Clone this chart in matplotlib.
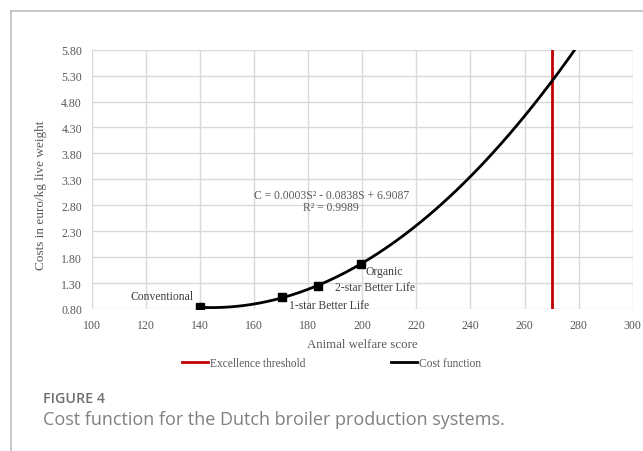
import numpy as np
import matplotlib
matplotlib.use("Agg")
import matplotlib.pyplot as plt
from matplotlib.lines import Line2D

# Production systems: animal welfare score and cost (euro/kg live weight)
systems = ["Conventional", "1-star Better Life", "2-star Better Life", "Organic"]
welfare_score = [140, 170.4, 183.6, 199.5]
cost = [0.83, 1.025, 1.243, 1.673]

excellence_threshold = 270
equation_text = "C = 0.0003S² - 0.0838S + 6.9087\nR² = 0.9989"

x_ticks = list(range(100, 301, 20))
y_ticks = [0.80, 1.30, 1.80, 2.30, 2.80, 3.30, 3.80, 4.30, 4.80, 5.30, 5.80]

serif = ["Liberation Serif", "DejaVu Serif"]
tick_color = "#595959"

fig = plt.figure(figsize=(6.43, 4.52), dpi=100)
ax = fig.add_axes([0.1426, 0.3142, 0.8414, 0.5736])

# quadratic trendline fitted through the four systems
coef = np.polyfit(welfare_score, cost, 2)
s = np.linspace(welfare_score[0], 300, 600)
c = np.polyval(coef, s)
mask = c <= y_ticks[-1] + 0.02
ax.plot(s[mask], c[mask], color="black", lw=2.0, zorder=3, solid_capstyle="butt")
ax.plot(welfare_score, cost, linestyle="none", marker="s", ms=5.2,
        color="black", zorder=4)
ax.axvline(excellence_threshold, color="#c00000", lw=2.0, zorder=2)

ax.set_xlim(100, 300)
ax.set_ylim(0.80, 5.80)
ax.set_xticks(x_ticks)
ax.set_yticks(y_ticks)
ax.set_yticklabels([f"{v:.2f}" for v in y_ticks])
ax.grid(True, color="#d9d9d9", lw=1.0)
ax.set_axisbelow(True)
for sp in ax.spines.values():
    sp.set_visible(False)
ax.tick_params(length=0, labelsize=8.6, labelcolor=tick_color, pad=7)
for lab in ax.get_xticklabels() + ax.get_yticklabels():
    lab.set_family(serif)

ax.set_xlabel("Animal welfare score", family=serif, fontsize=9.3,
              color=tick_color, labelpad=5)
ax.set_ylabel("Costs in euro/kg live weight", family=serif, fontsize=9.5,
              color=tick_color)
ax.yaxis.set_label_coords(-0.0826, 0.4435)

# point labels
label_style = dict(family=serif, fontsize=8.4, color="#404040")
offsets = [(-4.3, 8.1, "right"), (5.3, -5.5, "left"),
           (12.0, -0.7, "left"), (3.4, -5.3, "left")]
for name, xv, yv, (dx, dy, ha) in zip(systems, welfare_score, cost, offsets):
    ax.annotate(name, (xv, yv), xytext=(dx, dy), textcoords="offset points",
                ha=ha, va="center", **label_style)

ax.text(0.443, 0.4165, equation_text, transform=ax.transAxes, ha="center",
        va="center", family=serif, fontsize=8.4, color=tick_color,
        linespacing=1.0)

# legend under the axis
handles = [Line2D([], [], color="#c00000", lw=2),
           Line2D([], [], color="black", lw=2)]
leg = fig.legend(handles, ["Excellence threshold", "Cost function"],
                 loc="center", bbox_to_anchor=(331.5 / 643, 1 - 364 / 452),
                 ncol=2, frameon=False, prop={"family": serif, "size": 8.3},
                 handlelength=2.26, handletextpad=0.17, columnspacing=7.5,
                 borderpad=0, borderaxespad=0)
for t in leg.get_texts():
    t.set_color(tick_color)

# caption
fig.text(43 / 643, 1 - 399 / 452, "FIGURE 4", family="Open Sans",
         fontsize=10.3, fontweight="semibold", color="#707070", va="center")
fig.text(43 / 643, 1 - 420 / 452,
         "Cost function for the Dutch broiler production systems.",
         family="Open Sans", fontsize=13.0, color="#808080", va="center")

# page frame
fig.add_artist(Line2D([11 / 643, 1], [1 - 12 / 452] * 2, color="#bdbdbd",
                      lw=1.2, transform=fig.transFigure))
fig.add_artist(Line2D([11 / 643] * 2, [0, 1 - 12 / 452], color="#bdbdbd",
                      lw=1.2, transform=fig.transFigure))

fig.savefig("out.png", dpi=100)
